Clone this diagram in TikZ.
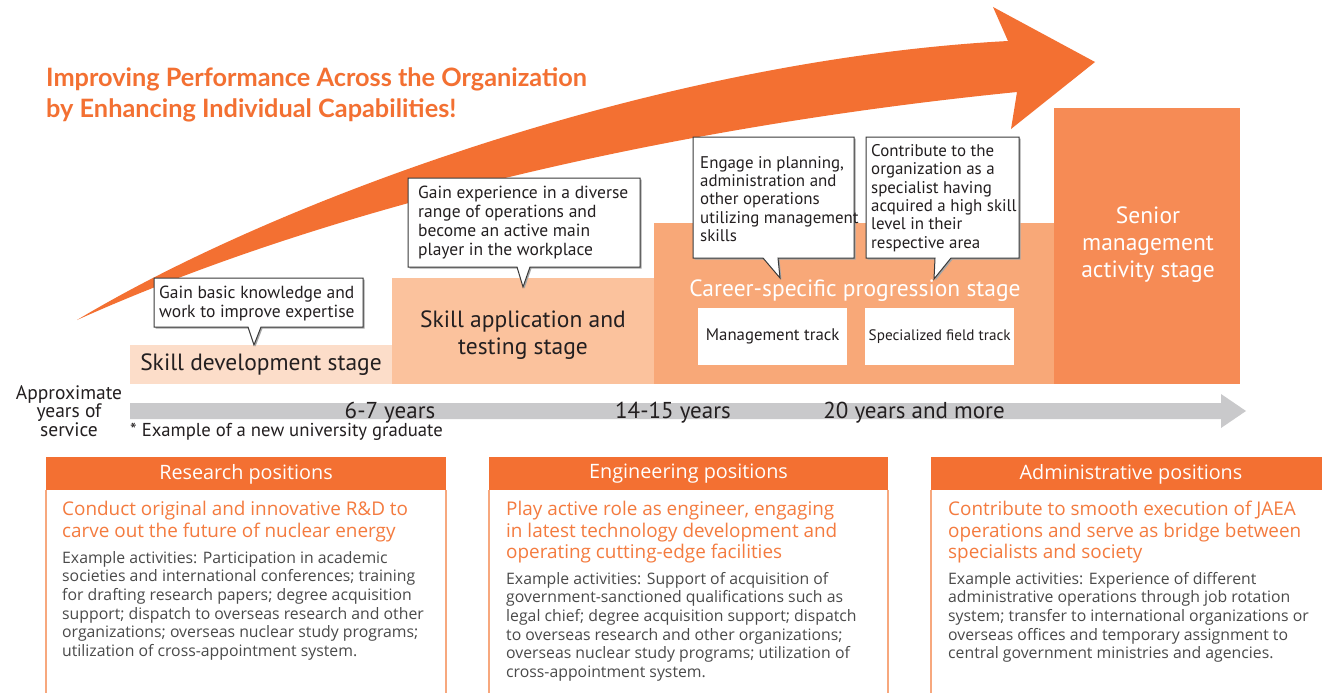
\documentclass[tikz,border=0pt]{standalone}
\usepackage{fontspec}
\setmainfont{Open Sans}
\newfontfamily\latofont{Lato}
\newfontfamily\ptsans{PT Sans}
\definecolor{arroworange}{HTML}{F37032}
\definecolor{stageA}{HTML}{FCDDC9}
\definecolor{stageB}{HTML}{FBC29D}
\definecolor{stageC}{HTML}{F8A878}
\definecolor{stageD}{HTML}{F68B55}
\definecolor{headorange}{HTML}{F47B3F}
\definecolor{panelborder}{HTML}{F7A87E}
\definecolor{bargray}{HTML}{C9C9CB}
\definecolor{darktext}{HTML}{231F20}
\definecolor{bodygray}{HTML}{4A4A4A}
\definecolor{calloutline}{HTML}{3A3A3A}
\begin{document}
\begin{tikzpicture}[x=1pt,y=-1pt,
  titletext/.style={anchor=north west,inner sep=0pt,text=arroworange,font={\latofont\fontsize{25.3}{31}\selectfont\bfseries}},
  callouttext/.style={anchor=north west,inner sep=0pt,align=left,text=darktext,font={\ptsans\fontsize{17.5}{19}\selectfont}},
  calloutbox/.style={draw=calloutline,line width=1pt,fill=white},
  calloutshadow/.style={fill=black!35},
  stagetext/.style={inner sep=0pt,align=center,text=darktext,font={\ptsans\fontsize{23.5}{27}\selectfont}},
  stagetextw/.style={inner sep=0pt,align=center,text=white,font={\ptsans\fontsize{23.5}{27}\selectfont}},
  trackbox/.style={fill=white,minimum width=149pt,minimum height=57pt,inner sep=0pt,anchor=north west,text=darktext,font={\ptsans\fontsize{16.8}{19}\selectfont}},
  yeartext/.style={anchor=base,inner sep=0pt,text=darktext,font={\ptsans\fontsize{23}{25}\selectfont}},
  paneltitle/.style={text=white,font={\fontsize{19.8}{22}\selectfont},inner sep=0pt},
  panelhead/.style={anchor=north west,inner sep=0pt,align=left,text=headorange,font={\fontsize{18.9}{21.5}\selectfont}},
  panelbody/.style={anchor=north west,inner sep=0pt,align=left,text=bodygray,font={\fontsize{15.8}{18.6}\selectfont}},
]
\useasboundingbox (0,0) rectangle (1322,693);
\fill[white] (0,0) rectangle (1322,693);

% big arrow
\fill[arroworange] (77,320) .. controls (277,200) and (658,60) .. (1008,41)
  -- (993,7) -- (1095,62) -- (1011,129) -- (1017,92)
  .. controls (667,127) and (327,207.5) .. (77,320) -- cycle;

% title
\node[titletext] (title1) at (46,67.5) {Improving Performance Across the Organization};
\node[titletext] (title2) at (46,98.5) {by Enhancing Individual Capabilities!};

% stages
\fill[stageA] (130,345) rectangle (392,384);
\fill[stageB] (392,278) rectangle (654,384);
\fill[stageC] (654,223) rectangle (1054,384);
\fill[stageD] (1054,108) rectangle (1240,384);
\node[stagetext] (sdev) at (261,365) {Skill development stage};
\node[stagetext] (sapp) at (523,335) {Skill application and\\testing stage};
\node[stagetextw] (scar) at (855,291) {Career-specific progression stage};
\node[stagetextw] (ssen) at (1148,245) {Senior\\management\\activity stage};
\node[trackbox] (mtrack) at (698,308) {Management track};
\node[trackbox,font={\ptsans\fontsize{15.2}{19}\selectfont}] (strack) at (865,308) {Specialized field track};

% callouts
\begin{scope}[shift={(1.5,1.5)}]
\fill[calloutshadow] (154,278) -- (363,278) -- (363,327) -- (261,327) -- (254,345) -- (248,327) -- (154,327) -- cycle;
\fill[calloutshadow] (408,178) -- (640,178) -- (640,267) -- (530,267) -- (523,287) -- (517,267) -- (408,267) -- cycle;
\fill[calloutshadow] (693,137) -- (854,137) -- (854,258) -- (778,258) -- (780,278) -- (763,258) -- (693,258) -- cycle;
\fill[calloutshadow] (866,137) -- (1019,137) -- (1019,258) -- (951,258) -- (934,279) -- (935,258) -- (866,258) -- cycle;
\end{scope}
\draw[calloutbox] (154,278) -- (363,278) -- (363,327) -- (261,327) -- (254,345) -- (248,327) -- (154,327) -- cycle;
\draw[calloutbox] (408,178) -- (640,178) -- (640,267) -- (530,267) -- (523,287) -- (517,267) -- (408,267) -- cycle;
\draw[calloutbox] (693,137) -- (854,137) -- (854,258) -- (778,258) -- (780,278) -- (763,258) -- (693,258) -- cycle;
\draw[calloutbox] (866,137) -- (1019,137) -- (1019,258) -- (951,258) -- (934,279) -- (935,258) -- (866,258) -- cycle;
\node[callouttext] (c1) at (159,285.5) {Gain basic knowledge and\\work to improve expertise};
\node[callouttext] (c2) at (418,185.5) {Gain experience in a diverse\\range of operations and\\become an active main\\player in the workplace};
\node[callouttext,font={\ptsans\fontsize{16.9}{18.4}\selectfont}] (c3) at (700,156) {Engage in planning,\\administration and\\other operations\\utilizing management\\skills};
\node[callouttext,font={\ptsans\fontsize{16.9}{18.4}\selectfont}] (c4) at (871,144) {Contribute to the\\organization as a\\specialist having\\acquired a high skill\\level in their\\respective area};

% timeline
\fill[bargray] (130,403) -- (1221,403) -- (1221,394) -- (1246,411) -- (1221,428) -- (1221,419) -- (130,419) -- cycle;
\node[yeartext] (y1) at (390,418) {6-7 years};
\node[yeartext] (y2) at (673,418) {14-15 years};
\node[yeartext] (y3) at (914,418) {20 years and more};
\node[inner sep=0pt,align=center,text=darktext,font={\ptsans\fontsize{19.5}{18.5}\selectfont}] (approx) at (69,411) {Approximate\\years of\\service};
\node[anchor=base west,inner sep=0pt,text=darktext,font={\ptsans\fontsize{18.7}{20}\selectfont}] (note) at (130,436) {* Example of a new university graduate};

% panels
\draw[panelborder,line width=1.3pt] (46,490) -- (46,700);
\draw[panelborder,line width=1.3pt] (446,490) -- (446,700);
\fill[arroworange] (46,457) rectangle (446,490);
\node[paneltitle] (p1t) at (246,474) {Research positions};
\node[panelhead] (p1h) at (62,501) {Conduct original and innovative R\&D to\\carve out the future of nuclear energy};
\node[panelbody] (p1b) at (62,551) {Example activities: Participation in academic\\societies and international conferences; training\\for drafting research papers; degree acquisition\\support; dispatch to overseas research and other\\organizations; overseas nuclear study programs;\\utilization of cross-appointment system.};

\draw[panelborder,line width=1.3pt] (489,490) -- (489,700);
\draw[panelborder,line width=1.3pt] (888,490) -- (888,700);
\fill[arroworange] (489,457) rectangle (888,490);
\node[paneltitle] (p2t) at (688.5,474) {Engineering positions};
\node[panelhead] (p2h) at (506,501) {Play active role as engineer, engaging\\in latest technology development and\\operating cutting-edge facilities};
\node[panelbody] (p2b) at (506,572) {Example activities: Support of acquisition of\\government-sanctioned qualifications such as\\legal chief; degree acquisition support; dispatch\\to overseas research and other organizations;\\overseas nuclear study programs; utilization of\\cross-appointment system.};

\draw[panelborder,line width=1.3pt] (931,490) -- (931,700);
\fill[arroworange] (931,457) rectangle (1322,490);
\node[paneltitle] (p3t) at (1131,474) {Administrative positions};
\node[panelhead] (p3h) at (948,501) {Contribute to smooth execution of JAEA\\operations and serve as bridge between\\specialists and society};
\node[panelbody] (p3b) at (948,572) {Example activities: Experience of different\\administrative operations through job rotation\\system; transfer to international organizations or\\overseas offices and temporary assignment to\\central government ministries and agencies.};
\end{tikzpicture}
\end{document}
